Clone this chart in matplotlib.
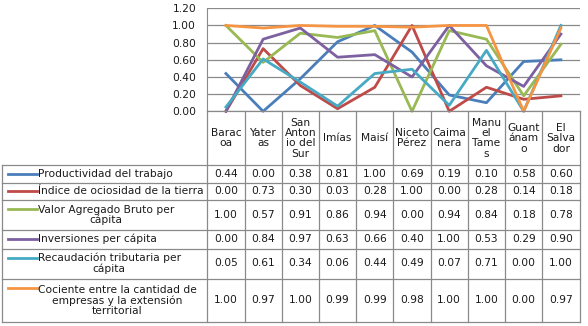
import numpy as np
import matplotlib
matplotlib.use("Agg")
import matplotlib.pyplot as plt
from matplotlib.lines import Line2D

categories = ["Barac\noa", "Yater\nas", "San\nAnton\nio del\nSur", "Imías", "Maisí",
              "Niceto\nPérez", "Caima\nnera", "Manu\nel\nTame\ns", "Guant\nánam\no", "El\nSalva\ndor"]
series_names = ["Productividad del trabajo",
                "Índice de ociosidad de la tierra",
                "Valor Agregado Bruto per\ncápita",
                "Inversiones per cápita",
                "Recaudación tributaria per\ncápita",
                "Cociente entre la cantidad de\nempresas y la extensión\nterritorial"]
productividad = [0.44, 0.00, 0.38, 0.81, 1.00, 0.69, 0.19, 0.10, 0.58, 0.60]
ociosidad     = [0.00, 0.73, 0.30, 0.03, 0.28, 1.00, 0.00, 0.28, 0.14, 0.18]
vab           = [1.00, 0.57, 0.91, 0.86, 0.94, 0.00, 0.94, 0.84, 0.18, 0.78]
inversiones   = [0.00, 0.84, 0.97, 0.63, 0.66, 0.40, 1.00, 0.53, 0.29, 0.90]
recaudacion   = [0.05, 0.61, 0.34, 0.06, 0.44, 0.49, 0.07, 0.71, 0.00, 1.00]
cociente      = [1.00, 0.97, 1.00, 0.99, 0.99, 0.98, 1.00, 1.00, 0.00, 0.97]
series = [productividad, ociosidad, vab, inversiones, recaudacion, cociente]
colors = ["#4A7EBB", "#BE4B48", "#98B954", "#7D60A0", "#46AAC5", "#F59443"]
yticks = [0.0, 0.2, 0.4, 0.6, 0.8, 1.0, 1.2]

W, H = 588, 326
fig = plt.figure(figsize=(W / 100, H / 100), dpi=100)
fig.patch.set_facecolor("white")

FS = 7.7
TXT = "#1a1a1a"
GRID = "#8a8a8a"
BORDER = "#8a8a8a"
LW = 2.0

# plot area (pixel layout)
px_left, px_right = 207.3, 579.5
px_top, px_bottom = 8.3, 111.3
ax = fig.add_axes([px_left / W, 1 - px_bottom / H, (px_right - px_left) / W, (px_bottom - px_top) / H])
n = len(categories)
x = np.arange(n) + 0.5
for vals, c in zip(series, colors):
    ax.plot(x, vals, color=c, lw=LW, solid_joinstyle="round", clip_on=False, zorder=3)
ax.set_xlim(0, n)
ax.set_ylim(0, 1.2)
ax.set_yticks(yticks)
ax.set_yticklabels([f"{v:.2f}" for v in yticks], fontsize=FS, color=TXT)
ax.set_xticks([])
ax.tick_params(axis="y", length=0, pad=8)
ax.grid(axis="y", color=GRID, lw=0.9)
for s in ["top", "right", "bottom"]:
    ax.spines[s].set_visible(False)
ax.spines["left"].set_color(BORDER)
ax.set_facecolor("none")

# table overlay
tab = fig.add_axes([0, 0, 1, 1])
tab.set_xlim(0, W)
tab.set_ylim(H, 0)
tab.axis("off")
tab.patch.set_alpha(0)

col_w = (px_right - px_left) / n
col_edges = [px_left + i * col_w for i in range(n + 1)]
table_left = 2.0
row_edges = [111.3, 165.0, 182.5, 200.0, 230.0, 248.5, 278.5, 322.0]

lw = 0.9
tab.plot([px_left, px_left], [row_edges[0], row_edges[-1]], color=BORDER, lw=lw)
for xe in col_edges[1:]:
    tab.plot([xe, xe], [row_edges[0], row_edges[-1]], color=BORDER, lw=lw)
tab.plot([table_left, table_left], [row_edges[1], row_edges[-1]], color=BORDER, lw=lw)
for k, ye in enumerate(row_edges):
    x0 = px_left if k == 0 else table_left
    tab.plot([x0, col_edges[-1]], [ye, ye], color=BORDER, lw=lw)

for i, cat in enumerate(categories):
    cx = (col_edges[i] + col_edges[i + 1]) / 2
    cy = (row_edges[0] + row_edges[1]) / 2
    tab.text(cx, cy, cat, ha="center", va="center", fontsize=FS, color=TXT,
             linespacing=1.05, multialignment="center")

for r, (name, vals, c) in enumerate(zip(series_names, series, colors)):
    y0, y1 = row_edges[r + 1], row_edges[r + 2]
    cy = (y0 + y1) / 2
    nlines = name.count("\n") + 1
    ly = y0 + 9 if nlines > 1 else cy
    tab.add_line(Line2D([8, 37], [ly, ly], color=c, lw=LW))
    tab.text(37.5, cy, name, ha="left", va="center", fontsize=FS, color=TXT,
             linespacing=1.05, multialignment="center")
    for i, v in enumerate(vals):
        cx = (col_edges[i] + col_edges[i + 1]) / 2
        tab.text(cx, cy, f"{v:.2f}", ha="center", va="center", fontsize=FS, color=TXT)

fig.savefig("out.png", dpi=100, facecolor="white")
